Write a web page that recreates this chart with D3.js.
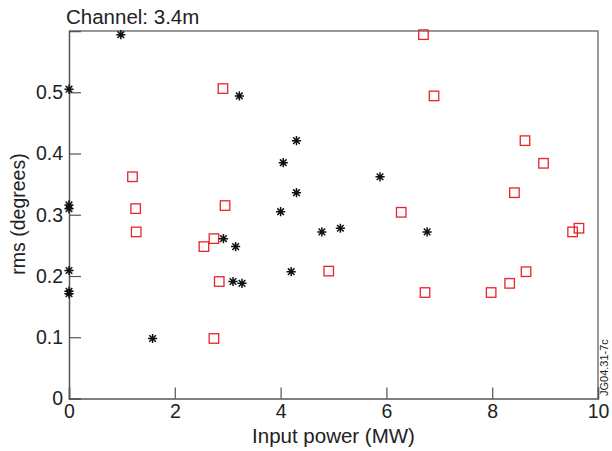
<!DOCTYPE html>
<html><head><meta charset="utf-8">
<script src="https://cdn.jsdelivr.net/npm/d3@7"></script>
<style>body{margin:0;background:#fff}svg{display:block}text{font-family:"Liberation Sans",Arial,sans-serif;fill:#222}</style>
</head><body><svg id="c" width="612" height="451"></svg>
<script>
const title = "Channel: 3.4m";
const xLabel = "Input power (MW)";
const yLabel = "rms (degrees)";
const stamp = "JG04.31-7c";
const xTicks = [0, 2, 4, 6, 8, 10];
const yTicks = [0, 0.1, 0.2, 0.3, 0.4, 0.5];
// black asterisk series
const starX = [0, 0.98, 3.22, 4.3, 4.05, 4.3, 4.0, 0, 0, 0, 0, 0, 1.58, 2.92, 3.15, 3.10, 3.27, 4.2, 4.78, 5.13, 5.88, 6.77];
const starY = [0.505, 0.594, 0.494, 0.421, 0.385, 0.336, 0.305, 0.316, 0.310, 0.209, 0.175, 0.171, 0.098, 0.261, 0.248, 0.191, 0.188, 0.207, 0.272, 0.278, 0.362, 0.272];
// red square series
const sqX = [1.2, 1.26, 1.27, 2.91, 2.95, 2.55, 2.74, 2.84, 2.74, 6.70, 6.90, 8.62, 8.97, 8.42, 6.28, 9.52, 9.64, 4.91, 6.73, 7.98, 8.33, 8.64];
const sqY = [0.362, 0.310, 0.272, 0.506, 0.315, 0.248, 0.261, 0.191, 0.098, 0.594, 0.494, 0.421, 0.384, 0.336, 0.304, 0.272, 0.278, 0.208, 0.173, 0.173, 0.188, 0.207];

const svg = d3.select("#c");
const L = 69, R = 598, T = 31, B = 398.5;
const x = d3.scaleLinear().domain([0, 10]).range([L, R]);
const y = d3.scaleLinear().domain([0, 0.6]).range([B, T]);

// frame top/right
svg.append("path").attr("d", `M${L},${T}H${R}V${B}`).attr("fill","none").attr("stroke","#777").attr("stroke-width",1.5);

const xa = svg.append("g").attr("transform",`translate(0,${B})`)
  .call(d3.axisBottom(x).tickValues(xTicks).tickSize(-11).tickPadding(6).tickFormat(d3.format("d")));
const ya = svg.append("g").attr("transform",`translate(${L},0)`)
  .call(d3.axisLeft(y).tickValues(yTicks).tickSize(-12).tickPadding(6).tickFormat(d => d === 0 ? "0" : d3.format(".1f")(d)));
[xa, ya].forEach(g => {
  g.select(".domain").attr("stroke","#555").attr("stroke-width",1.5);
  g.selectAll(".tick line").attr("stroke","#555").attr("stroke-width",1.2);
  g.selectAll(".tick text").attr("font-size",19.5).attr("fill","#222").attr("font-family","Liberation Sans, Arial, sans-serif");
});

// squares
const s = 9.5;
svg.append("g").selectAll("rect").data(sqX.map((d,i)=>[d,sqY[i]])).join("rect")
  .attr("x", d => x(d[0]) - s/2).attr("y", d => y(d[1]) - s/2)
  .attr("width", s).attr("height", s)
  .attr("fill","none").attr("stroke","#e8232a").attr("stroke-width",1.3);

// asterisks
const r = 4.6;
const star = `M${-r},0H${r}M0,${-r}V${r}M${-r*0.72},${-r*0.72}L${r*0.72},${r*0.72}M${-r*0.72},${r*0.72}L${r*0.72},${-r*0.72}`;
svg.append("g").selectAll("path").data(starX.map((d,i)=>[d,starY[i]])).join("path")
  .attr("transform", d => `translate(${x(d[0])},${y(d[1])})`)
  .attr("d", star).attr("fill","none").attr("stroke","#111").attr("stroke-width",1.5);

svg.append("text").attr("x",66).attr("y",24).attr("font-size",20.5).text(title);
svg.append("text").attr("x",(L+R)/2).attr("y",443).attr("text-anchor","middle").attr("font-size",20.5).text(xLabel);
svg.append("text").attr("transform","translate(25,214) rotate(-90)").attr("text-anchor","middle").attr("font-size",19.5).text(yLabel);
svg.append("text").attr("transform","translate(608,396) rotate(-90)").attr("text-anchor","start").attr("font-size",11).text(stamp);
</script></body></html>
